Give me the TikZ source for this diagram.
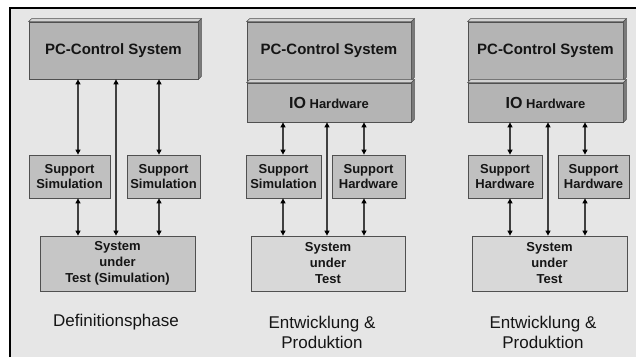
\documentclass[tikz,border=0pt]{standalone}
\usepackage{fontspec}
\setmainfont{Liberation Sans}
\usetikzlibrary{arrows.meta,calc}
\definecolor{bgc}{HTML}{E6E6E6}
\definecolor{pcc}{HTML}{B4B4B4}
\definecolor{supc}{HTML}{C0C0C0}
\definecolor{sutdark}{HTML}{C6C6C6}
\definecolor{sutlight}{HTML}{D8D8D8}
\definecolor{edgec}{HTML}{505050}
\definecolor{topc}{HTML}{D2D2D2}
\definecolor{sidec}{HTML}{7A7A7A}
\definecolor{linec}{HTML}{404040}
\definecolor{txtc}{HTML}{151515}
\newcommand{\extrude}[1]{%
  \filldraw[fill=topc, draw=edgec, line width=0.5pt] (#1.north west) -- ++(3,-3) -- ($(#1.north east)+(3,-3)$) -- (#1.north east) -- cycle;
  \filldraw[fill=sidec, draw=edgec, line width=0.5pt] (#1.north east) -- ++(3,-3) -- ($(#1.south east)+(3,-3)$) -- (#1.south east) -- cycle;}
\tikzset{
  box/.style={draw=edgec, line width=0.8pt, inner sep=0pt, align=center, text=txtc},
  pcbox/.style={box, fill=pcc, font=\bfseries\fontsize{15}{17}\selectfont},
  iobox/.style={box, fill=pcc, font=\bfseries\fontsize{13}{15}\selectfont},
  supbox/.style={box, fill=supc, minimum height=43pt, font=\bfseries\fontsize{13}{15}\selectfont},
  sutbox/.style={box, minimum height=55pt, font=\bfseries\fontsize{13}{16}\selectfont},
  lab/.style={align=center, text=txtc, inner sep=0pt, font=\fontsize{17}{20}\selectfont},
  arr/.style={{Triangle[length=5pt,width=5pt,color=black]}-{Triangle[length=5pt,width=5pt,color=black]}, draw=linec, line width=1.1pt}
}
\begin{document}
\begin{tikzpicture}[x=1pt,y=-1pt]
\useasboundingbox (0,0) rectangle (636,357);
\fill[white] (0,0) rectangle (636,357);
\fill[bgc] (10,8) rectangle (636,357);
\draw[line width=1.5pt] (10,357) -- (10,8) -- (636,8);

% ---------- Panel 1 ----------
\node[pcbox, minimum width=169pt, minimum height=57pt] (pc1) at (113.5,50.5) {PC-Control System};
\extrude{pc1}
\node[supbox, minimum width=81pt] (s1a) at (69.5,176.5) {Support\\Simulation};
\node[supbox, minimum width=73pt] (s1b) at (163.5,176.5) {Support\\Simulation};
\node[sutbox, fill=sutdark, minimum width=155pt] (sut1) at (117.5,263.5) {System\\under\\Test (Simulation)};
\node[lab] (l1) at (116,322) {Definitionsphase};
\coordinate (a11) at (78,0);
\coordinate (a12) at (116,0);
\coordinate (a13) at (159,0);
\draw[arr] (pc1.south -| a11) -- (s1a.north -| a11);
\draw[arr] (pc1.south -| a13) -- (s1b.north -| a13);
\draw[arr] (s1a.south -| a11) -- (sut1.north -| a11);
\draw[arr] (s1b.south -| a13) -- (sut1.north -| a13);
\draw[arr] (pc1.south -| a12) -- (sut1.north -| a12);

% ---------- Panel 2 ----------
\node[pcbox, minimum width=164pt, minimum height=58pt] (pc2) at (329,51) {PC-Control System};
\extrude{pc2}
\node[iobox, minimum width=164pt, minimum height=39pt] (io2) at (329,102.5) {{\fontsize{16}{15}\selectfont IO} Hardware};
\extrude{io2}
\node[supbox, minimum width=75pt] (s2a) at (283.5,176.5) {Support\\Simulation};
\node[supbox, minimum width=73pt] (s2b) at (368.5,176.5) {Support\\Hardware};
\node[sutbox, fill=sutlight, minimum width=154pt] (sut2) at (328,263.5) {System\\under\\Test};
\node[lab] (l2) at (322,332) {Entwicklung \&\\Produktion};
\coordinate (a21) at (283,0);
\coordinate (a22) at (327,0);
\coordinate (a23) at (364,0);
\draw[arr] (io2.south -| a21) -- (s2a.north -| a21);
\draw[arr] (io2.south -| a23) -- (s2b.north -| a23);
\draw[arr] (s2a.south -| a21) -- (sut2.north -| a21);
\draw[arr] (s2b.south -| a23) -- (sut2.north -| a23);
\draw[arr] (io2.south -| a22) -- (sut2.north -| a22);

% ---------- Panel 3 ----------
\node[pcbox, minimum width=155pt, minimum height=58pt] (pc3) at (545.5,51) {PC-Control System};
\extrude{pc3}
\node[iobox, minimum width=155pt, minimum height=39pt] (io3) at (545.5,102.5) {{\fontsize{16}{15}\selectfont IO} Hardware};
\extrude{io3}
\node[supbox, minimum width=74pt] (s3a) at (505,176.5) {Support\\Hardware};
\node[supbox, minimum width=71pt] (s3b) at (593.5,176.5) {Support\\Hardware};
\node[sutbox, fill=sutlight, minimum width=155pt] (sut3) at (549.5,263.5) {System\\under\\Test};
\node[lab] (l3) at (543,332) {Entwicklung \&\\Produktion};
\coordinate (a31) at (510,0);
\coordinate (a32) at (548,0);
\coordinate (a33) at (585,0);
\draw[arr] (io3.south -| a31) -- (s3a.north -| a31);
\draw[arr] (io3.south -| a33) -- (s3b.north -| a33);
\draw[arr] (s3a.south -| a31) -- (sut3.north -| a31);
\draw[arr] (s3b.south -| a33) -- (sut3.north -| a33);
\draw[arr] (io3.south -| a32) -- (sut3.north -| a32);
\end{tikzpicture}
\end{document}
